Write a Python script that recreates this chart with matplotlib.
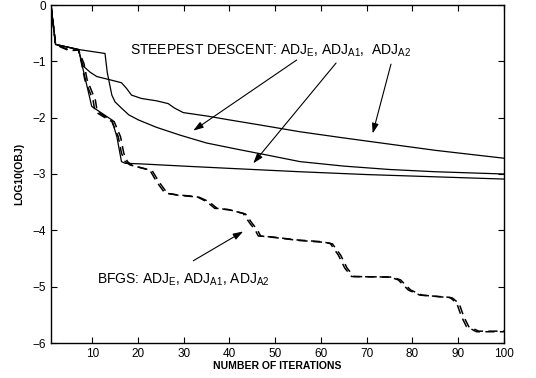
import matplotlib
matplotlib.use("Agg")
import matplotlib.pyplot as plt

plt.rcParams['font.family'] = ['Liberation Sans', 'DejaVu Sans']
plt.rcParams['mathtext.fontset'] = 'custom'
plt.rcParams['mathtext.rm'] = 'Liberation Sans'
plt.rcParams['mathtext.it'] = 'Liberation Sans'
plt.rcParams['mathtext.default'] = 'rm'

# Steepest descent curves
sd_a2_x = [1, 2, 7, 8, 9.5, 11, 14, 16.4, 17.5, 18.6, 20.8, 24, 26.6, 28, 29.9, 35, 40, 46.7, 55.4, 65, 75, 85, 100]
sd_a2_y = [0, -0.70, -0.79, -1.08, -1.19, -1.27, -1.33, -1.38, -1.48, -1.60, -1.66, -1.70, -1.75, -1.83, -1.91,
           -1.97, -2.04, -2.13, -2.25, -2.36, -2.47, -2.58, -2.72]

sd_e_x = [1, 2, 7, 12.8, 13.3, 14.3, 15, 16.4, 18, 20.1, 24, 29.2, 35, 42.3, 48, 55.4, 65, 75, 85, 100]
sd_e_y = [0, -0.70, -0.79, -0.86, -1.20, -1.60, -1.72, -1.83, -1.95, -2.04, -2.17, -2.31, -2.45, -2.57, -2.66,
          -2.78, -2.86, -2.92, -2.96, -3.00]

sd_a1_x = [1, 2, 7, 9.9, 11, 14.3, 15.4, 16.4, 17.2, 20.5, 30, 40, 55.4, 70, 85, 100]
sd_a1_y = [0, -0.70, -0.79, -1.80, -1.86, -2.04, -2.34, -2.78, -2.81, -2.82, -2.86, -2.90, -2.96, -3.01, -3.05, -3.09]

# BFGS curves
bfgs1_x = [1, 2, 3.5, 5, 7, 7.7, 8.4, 9.5, 10.2, 10.6, 12.4, 14.3, 15.7, 16.4, 17.2, 18.3, 22.6, 24.1, 25.9, 28.5,
           32.8, 35, 36.8, 39.7, 43, 44.5, 45.6, 46.3, 49.6, 54.7, 59.8, 62, 63.8, 65.2, 66.7, 75.1, 76.9, 79.1,
           81.6, 88.2, 89.7, 90.7, 91.8, 94, 100]
bfgs1_y = [0, -0.70, -0.75, -0.80, -0.80, -1.04, -1.33, -1.55, -1.69, -1.89, -1.98, -2.07, -2.34, -2.63, -2.78,
           -2.84, -2.93, -3.14, -3.34, -3.37, -3.40, -3.49, -3.61, -3.63, -3.70, -3.88, -3.99, -4.10, -4.12, -4.17,
           -4.20, -4.23, -4.44, -4.67, -4.82, -4.83, -4.88, -5.06, -5.15, -5.19, -5.30, -5.53, -5.71, -5.80, -5.80]
bfgs2_x = [1, 2, 3.5, 5, 7, 8.2, 8.9, 10.0, 10.7, 11.1, 12.9, 14.8, 16.2, 16.9, 17.7, 18.8, 23.1, 24.6, 26.4, 29,
           33.3, 35.5, 37.3, 40.2, 43.5, 45, 46.1, 46.8, 50.1, 55.2, 60.3, 62.5, 64.3, 65.7, 67.2, 75.6, 77.4, 79.6,
           82.1, 88.7, 90.2, 91.2, 92.3, 94.5, 100]
bfgs2_y = [0, -0.70, -0.76, -0.81, -0.80, -1.04, -1.33, -1.55, -1.69, -1.89, -1.98, -2.07, -2.34, -2.63, -2.78,
           -2.85, -2.94, -3.14, -3.34, -3.38, -3.41, -3.49, -3.61, -3.64, -3.71, -3.88, -3.99, -4.10, -4.13, -4.18,
           -4.21, -4.24, -4.44, -4.67, -4.82, -4.83, -4.88, -5.06, -5.15, -5.20, -5.30, -5.53, -5.71, -5.79, -5.79]

xticks = [10, 20, 30, 40, 50, 60, 70, 80, 90, 100]
yticks = [0, -1, -2, -3, -4, -5, -6]

fig = plt.figure(figsize=(5.36, 3.78), dpi=100)
ax = fig.add_axes([51/536, 35/378, 453/536, 338/378])

lw = 0.9
for xs, ys in [(sd_a2_x, sd_a2_y), (sd_e_x, sd_e_y), (sd_a1_x, sd_a1_y)]:
    ax.plot(xs, ys, color='black', lw=lw)
for xs, ys in [(bfgs1_x, bfgs1_y), (bfgs2_x, bfgs2_y)]:
    ax.plot(xs, ys, color='black', lw=1.1, dashes=(6, 3.5))

ax.set_xlim(1, 100)
ax.set_ylim(-6, 0)
ax.set_xticks(xticks)
ax.set_yticks(yticks)
ax.tick_params(direction='in', top=True, right=True, labelsize=8.5, length=4, width=0.8)
for s in ax.spines.values():
    s.set_linewidth(1.0)

ax.set_xlabel('NUMBER OF ITERATIONS', fontsize=7.5, fontweight='bold', labelpad=1)
ax.set_ylabel('LOG10(OBJ)', fontsize=7.5, fontweight='bold', labelpad=6)

ax.text(18.3, -0.888, r'STEEPEST DESCENT: ADJ$_{E}$, ADJ$_{A1}$,  ADJ$_{A2}$', fontsize=10, va='baseline', ha='left')
ax.text(11.05, -4.94, r'BFGS: ADJ$_{E}$, ADJ$_{A1}$, ADJ$_{A2}$', fontsize=10, va='baseline', ha='left')

arrows = [((54.7, -0.976), (32.1, -2.23)),
          ((63.3, -1.03), (45.2, -2.81)),
          ((75.3, -1.05), (71.3, -2.28)),
          ((32.1, -4.54), (43.0, -4.02))]
for tail, head in arrows:
    ax.annotate('', xy=head, xytext=tail,
                arrowprops=dict(arrowstyle='-|>,head_length=0.6,head_width=0.2', color='black', lw=0.8,
                                shrinkA=0, shrinkB=0))

fig.savefig('out.png', dpi=100)
